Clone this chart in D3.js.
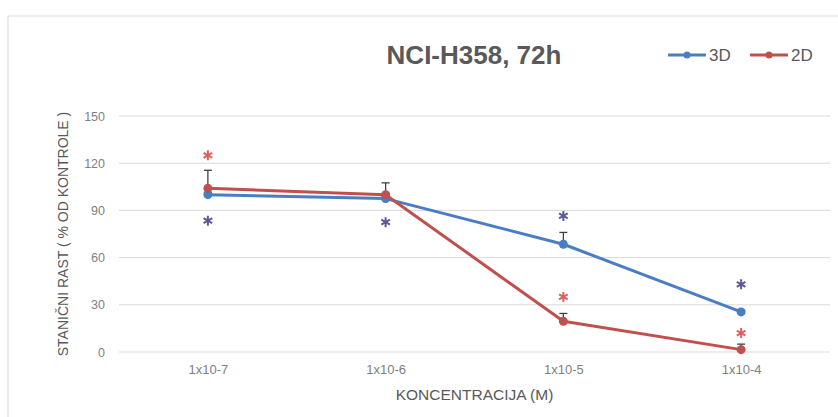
<!DOCTYPE html>
<html>
<head>
<meta charset="utf-8">
<script src="https://cdn.jsdelivr.net/npm/d3@7"></script>
<style>
  body { margin: 0; background: #fff; }
  svg { display: block; font-family: "Liberation Sans", Arial, sans-serif; }
</style>
</head>
<body>
<svg id="chart" width="838" height="417"></svg>
<script>
// categories and values
var categories = ["1x10-7", "1x10-6", "1x10-5", "1x10-4"];
var values3D = [100, 97.5, 68.5, 25.5];
var values2D = [104, 100, 19.5, 1.5];
var err3D = [1.5, 1.5, 7.5, 1];
var err2D = [11.5, 7.5, 5, 3.5];
// where the significance stars sit (in % units)
var star3D = [83.5, 82.5, 86.5, 43];
var star2D = [125, null, 35, 12];
var yTicks = [0, 30, 60, 90, 120, 150];

var svg = d3.select("#chart");

// outer chart frame
svg.append("rect")
    .attr("x", 8).attr("y", 16)
    .attr("width", 850).attr("height", 430)
    .attr("fill", "none")
    .attr("stroke", "#d9d9d9");

var margin = { top: 116, left: 119, right: 8, bottom: 65 },
    width = 838 - margin.left - margin.right,
    height = 417 - margin.top - margin.bottom;

var g = svg.append("g")
    .attr("transform", "translate(" + margin.left + "," + margin.top + ")");

var x = d3.scalePoint()
    .domain(categories)
    .range([0, width])
    .padding(0.5);

var y = d3.scaleLinear()
    .domain([0, 150])
    .range([height, 0]);

// grid lines
g.append("g")
    .selectAll("line")
    .data(yTicks)
    .enter()
    .append("line")
    .attr("x1", 0).attr("x2", width)
    .attr("y1", function (d) { return y(d); })
    .attr("y2", function (d) { return y(d); })
    .attr("stroke", "#d9d9d9")
    .attr("stroke-width", 1);

// Y axis
var yAxis = g.append("g")
    .call(d3.axisLeft(y).tickValues(yTicks).tickSize(0).tickPadding(14));
yAxis.select(".domain").remove();
yAxis.selectAll("text")
    .attr("fill", "#808080")
    .style("font-size", "12.5px")
    .style("font-family", "\"Liberation Sans\", sans-serif");

// X axis
var xAxis = g.append("g")
    .attr("transform", "translate(0," + height + ")")
    .call(d3.axisBottom(x).tickSize(0).tickPadding(13));
xAxis.select(".domain").remove();
xAxis.selectAll("text")
    .attr("fill", "#808080")
    .style("font-size", "13px")
    .style("font-family", "\"Liberation Sans\", sans-serif");

// axis titles
svg.append("text")
    .attr("x", margin.left + width / 2)
    .attr("y", 400)
    .attr("text-anchor", "middle")
    .attr("fill", "#595959")
    .style("font-size", "15.5px")
    .text("KONCENTRACIJA (M)");

svg.append("text")
    .attr("transform", "translate(68," + (margin.top + height / 2) + ") rotate(-90)")
    .attr("text-anchor", "middle")
    .attr("fill", "#595959")
    .style("font-size", "14px")
    .text("STANIČNI RAST ( % OD KONTROLE )");

// title
svg.append("text")
    .attr("x", 474)
    .attr("y", 64)
    .attr("text-anchor", "middle")
    .attr("fill", "#595959")
    .style("font-size", "26px")
    .style("font-weight", "bold")
    .text("NCI-H358, 72h");

var series = [
    { name: "3D", color: "#4a7ec2", values: values3D, err: err3D },
    { name: "2D", color: "#c0504d", values: values2D, err: err2D }
];

var line = d3.line()
    .x(function (d, i) { return x(categories[i]); })
    .y(function (d) { return y(d); });

series.forEach(function (s) {
    g.append("path")
        .datum(s.values)
        .attr("fill", "none")
        .attr("stroke", s.color)
        .attr("stroke-width", 3)
        .attr("stroke-linejoin", "round")
        .attr("d", line);
});

// error bars (upper only)
series.forEach(function (s) {
    var eb = g.append("g").selectAll("g")
        .data(s.values)
        .enter()
        .append("g");
    eb.append("line")
        .attr("x1", function (d, i) { return x(categories[i]); })
        .attr("x2", function (d, i) { return x(categories[i]); })
        .attr("y1", function (d) { return y(d); })
        .attr("y2", function (d, i) { return y(d + s.err[i]); })
        .attr("stroke", "#404040")
        .attr("stroke-width", 1.3);
    eb.append("line")
        .attr("x1", function (d, i) { return x(categories[i]) - 4; })
        .attr("x2", function (d, i) { return x(categories[i]) + 4; })
        .attr("y1", function (d, i) { return y(d + s.err[i]); })
        .attr("y2", function (d, i) { return y(d + s.err[i]); })
        .attr("stroke", "#404040")
        .attr("stroke-width", 1.3);
});

// markers
series.forEach(function (s) {
    g.append("g").selectAll("circle")
        .data(s.values)
        .enter()
        .append("circle")
        .attr("cx", function (d, i) { return x(categories[i]); })
        .attr("cy", function (d) { return y(d); })
        .attr("r", 4.5)
        .attr("fill", s.color);
});

// significance asterisks
var stars = [
    { color: "#5d5a95", values: star3D },
    { color: "#e0605c", values: star2D }
];
var asterisk = d3.symbol().type(d3.symbolAsterisk).size(70);
stars.forEach(function (st) {
    g.append("g").selectAll("path")
        .data(st.values.map(function (v, i) { return { v: v, c: categories[i] }; })
            .filter(function (d) { return d.v !== null; }))
        .enter()
        .append("path")
        .attr("transform", function (d) { return "translate(" + x(d.c) + "," + y(d.v) + ")"; })
        .attr("d", asterisk)
        .attr("fill", "none")
        .attr("stroke", st.color)
        .attr("stroke-width", 2);
});

// legend
var legend = svg.append("g").attr("transform", "translate(668,55)");
series.forEach(function (s, i) {
    var lg = legend.append("g").attr("transform", "translate(" + (i * 82) + ",0)");
    lg.append("line")
        .attr("x1", 0).attr("x2", 38)
        .attr("y1", 0).attr("y2", 0)
        .attr("stroke", s.color)
        .attr("stroke-width", 3);
    lg.append("circle")
        .attr("cx", 19).attr("cy", 0).attr("r", 3.5)
        .attr("fill", s.color);
    lg.append("text")
        .attr("x", 41)
        .attr("y", 6)
        .attr("fill", "#595959")
        .style("font-size", "17px")
        .text(s.name);
});
</script>
</body>
</html>
